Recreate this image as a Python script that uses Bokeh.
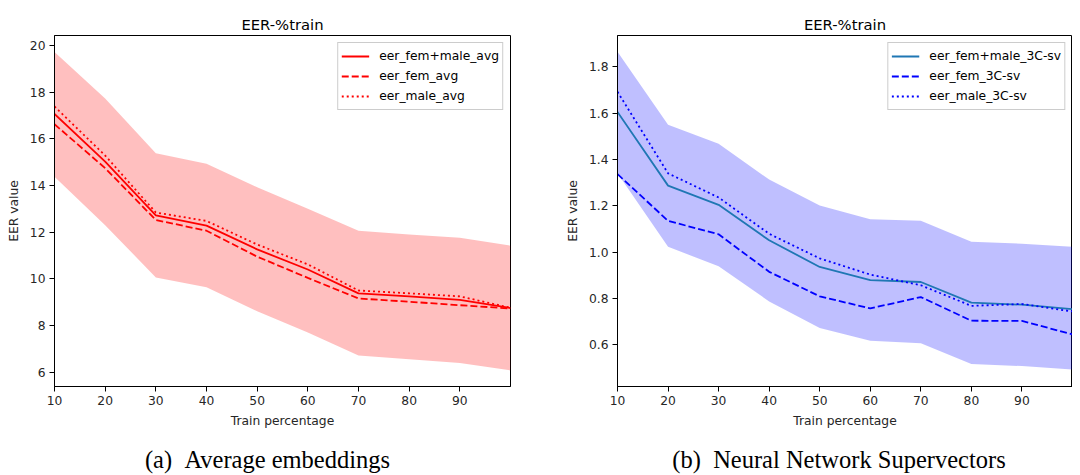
from bokeh.plotting import figure
from bokeh.models import (Range1d, FixedTicker, PrintfTickFormatter, Legend,
                          LegendItem, Div, Spacer)
from bokeh.layouts import row, column
from bokeh.embed import file_html
from bokeh.resources import INLINE

# ---------------- data ----------------
train_pct = [10, 20, 30, 40, 50, 60, 70, 80, 90, 100]
x_ticks = [10, 20, 30, 40, 50, 60, 70, 80, 90]

# (a) Average embeddings
avg_all = [17.06, 15.02, 12.72, 12.28, 11.26, 10.40, 9.38, 9.25, 9.10, 8.75]
avg_fem = [16.62, 14.74, 12.52, 12.06, 10.95, 10.04, 9.16, 9.02, 8.87, 8.73]
avg_male = [17.38, 15.28, 12.84, 12.48, 11.47, 10.62, 9.50, 9.38, 9.25, 8.76]
avg_upper = [19.71, 17.72, 15.38, 14.93, 13.92, 13.00, 12.06, 11.90, 11.76, 11.42]
avg_lower = [14.37, 12.30, 10.06, 9.64, 8.61, 7.70, 6.72, 6.56, 6.40, 6.08]
avg_yticks = [6, 8, 10, 12, 14, 16, 18, 20]

# (b) Neural Network Supervectors
sv_all = [1.605, 1.287, 1.204, 1.051, 0.936, 0.879, 0.871, 0.782, 0.773, 0.754]
sv_fem = [1.337, 1.135, 1.077, 0.915, 0.809, 0.757, 0.806, 0.704, 0.703, 0.645]
sv_male = [1.692, 1.340, 1.236, 1.079, 0.973, 0.903, 0.857, 0.768, 0.776, 0.744]
sv_upper = [1.865, 1.550, 1.468, 1.313, 1.201, 1.142, 1.135, 1.045, 1.036, 1.023]
sv_lower = [1.340, 1.023, 0.939, 0.787, 0.672, 0.617, 0.607, 0.517, 0.508, 0.493]
sv_yticks = [0.6, 0.8, 1.0, 1.2, 1.4, 1.6, 1.8]

labels_a = ["eer_fem+male_avg", "eer_fem_avg", "eer_male_avg"]
labels_b = ["eer_fem+male_3C-sv", "eer_fem_3C-sv", "eer_male_3C-sv"]
title_txt = "EER-%train"
xlabel = "Train percentage"
ylabel = "EER value"
caption_a = "(a)\u2002Average embeddings"
caption_b = "(b)\u2002Neural Network Supervectors"

FONT = "DejaVu Sans"
TXT = "12.3px"


def make_fig(y0, y1, yticks, yfmt, width, mbl, mbr):
    p = figure(width=width, height=440, x_range=Range1d(10, 100),
               y_range=Range1d(y0, y1), output_backend="svg",
               toolbar_location=None, min_border_left=mbl,
               min_border_right=mbr, min_border_top=35,
               min_border_bottom=54, title=title_txt)
    p.title.align = "center"
    p.title.text_font = FONT
    p.title.text_font_size = "14.8px"
    p.title.text_font_style = "normal"
    p.title.text_color = "black"
    p.title.standoff = 6
    p.grid.visible = False
    p.outline_line_color = "black"
    p.outline_line_width = 1
    p.background_fill_color = "white"
    p.border_fill_color = "white"
    for ax in (p.xaxis[0], p.yaxis[0]):
        ax.axis_line_color = "black"
        ax.major_tick_line_color = "black"
        ax.major_tick_out = 5
        ax.major_tick_in = 0
        ax.minor_tick_line_color = None
        ax.major_label_text_font = FONT
        ax.major_label_text_font_size = TXT
        ax.major_label_text_color = "#262626"
        ax.axis_label_text_font = FONT
        ax.axis_label_text_font_size = TXT
        ax.axis_label_text_font_style = "normal"
        ax.axis_label_text_color = "#262626"
        ax.major_label_standoff = 4
        ax.axis_label_standoff = 6
    p.xaxis.ticker = FixedTicker(ticks=x_ticks)
    p.yaxis.ticker = FixedTicker(ticks=yticks)
    p.yaxis.formatter = PrintfTickFormatter(format=yfmt)
    p.xaxis.axis_label = xlabel
    p.yaxis.axis_label = ylabel
    return p


def add_series(p, lower, upper, fill, ys, colors, labels):
    p.varea(x=train_pct, y1=lower, y2=upper, fill_color=fill,
            fill_alpha=0.25)
    dashes = ["solid", "7 3", "2 3"]
    items = []
    for y, c, d, lab in zip(ys, colors, dashes, labels):
        r = p.line(train_pct, y, line_color=c, line_width=1.8, line_dash=d)
        items.append(LegendItem(label=lab, renderers=[r]))
    leg = Legend(items=items, location="top_right", margin=7, padding=3,
                 spacing=0, glyph_width=28, glyph_height=20,
                 label_height=20, label_standoff=10, label_text_font=FONT,
                 label_text_font_size=TXT, label_text_color="black",
                 border_line_color="#cccccc", border_line_alpha=1.0,
                 background_fill_alpha=0.8)
    p.add_layout(leg)


fa = make_fig(5.39, 20.42, avg_yticks, "%d", 540, 54, 30)
add_series(fa, avg_lower, avg_upper, "red", [avg_all, avg_fem, avg_male],
           ["red", "red", "red"], labels_a)

fb = make_fig(0.42, 1.935, sv_yticks, "%.1f", 532, 77, 0)
add_series(fb, sv_lower, sv_upper, "blue", [sv_all, sv_fem, sv_male],
           ["#1f77b4", "blue", "blue"], labels_b)

cap_style = ("text-align:center;font-family:'Liberation Serif';"
             "font-size:24.5px;line-height:28px;padding-top:1px;"
             "color:black;white-space:nowrap;")
da = Div(text=f'<div style="{cap_style}width:525px">{caption_a}</div>',
         width=525, height=33)
db = Div(text=f'<div style="{cap_style}width:454px">{caption_b}</div>',
         width=454, height=33)

layout = column(row(fa, fb), row(da, Spacer(width=72, height=33), db))

open("out.html", "w").write(file_html(layout, INLINE))
